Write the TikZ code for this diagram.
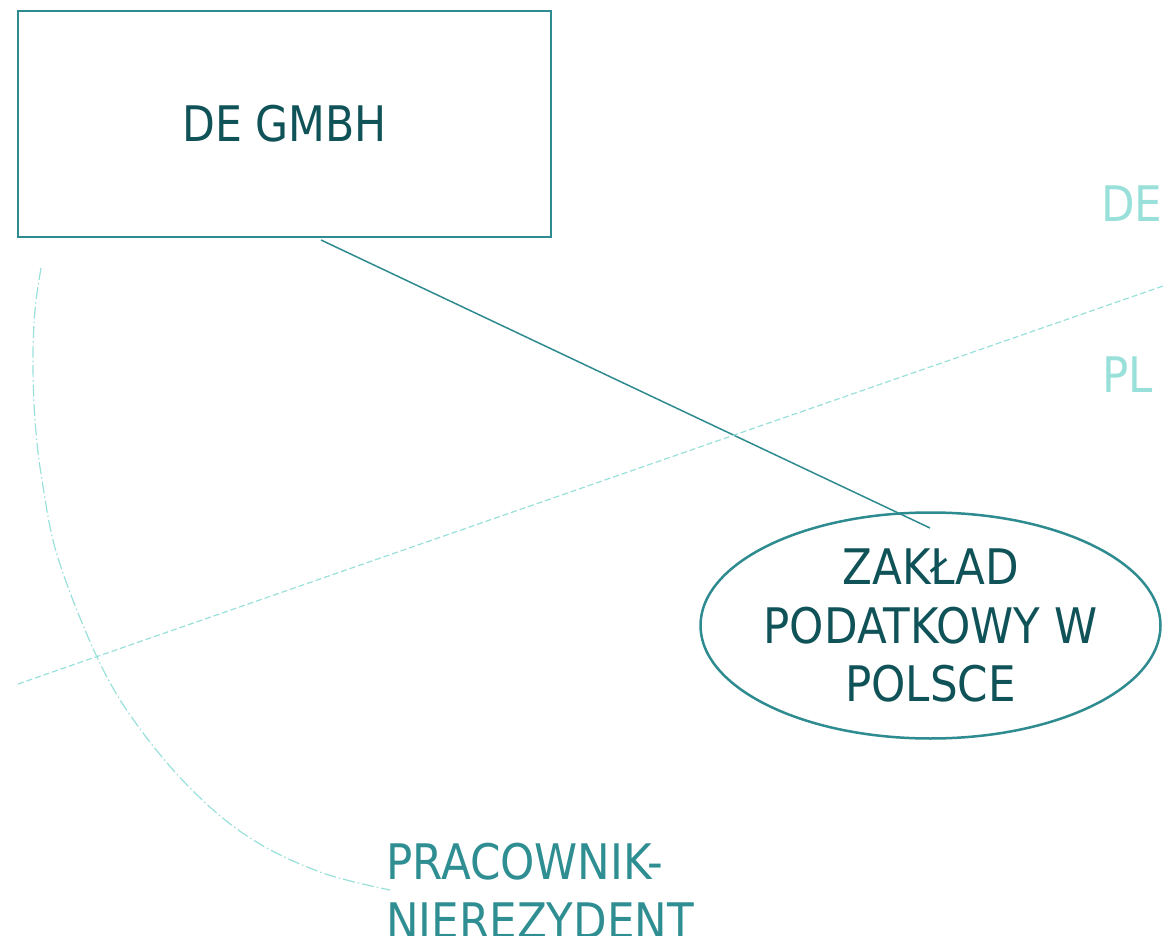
\documentclass[tikz,border=0pt]{standalone}
\usepackage{fontspec}
\setmainfont{DejaVu Sans}[FakeStretch=0.89]
\usetikzlibrary{shapes.geometric}
\definecolor{tealline}{HTML}{2E8B8F}
\definecolor{darktext}{HTML}{0F5257}
\definecolor{midtext}{HTML}{2E8E92}
\definecolor{lighttext}{HTML}{99E0DA}
\tikzset{
  bigfont/.style={font=\fontsize{49}{58.5}\selectfont},
  boxstyle/.style={draw=tealline, line width=2.5pt, minimum width=533pt, minimum height=226pt, inner sep=0pt, text=darktext, font=\fontsize{49}{58.5}\addfontfeatures{FakeStretch=0.87}\selectfont},
  ellstyle/.style={draw=tealline, line width=2.5pt, ellipse, minimum width=460pt, minimum height=226pt, inner xsep=-15pt, inner ysep=0pt, text=darktext, align=center, bigfont},
  linkline/.style={draw=tealline, line width=1.5pt},
  borderline/.style={draw=lighttext, line width=1.2pt, dash pattern=on 6pt off 3pt},
  arcline/.style={draw=lighttext, line width=1.2pt, dash pattern=on 12pt off 3pt on 1.5pt off 3pt},
  countrylabel/.style={text=lighttext, inner sep=0pt, anchor=base west, bigfont},
  personlabel/.style={text=midtext, inner sep=0pt, anchor=north west, align=left, bigfont}
}
\begin{document}
\begin{tikzpicture}[x=1pt,y=-1pt]
\useasboundingbox (0,0) rectangle (1163,936);
\node[boxstyle] (gmbh) at (284.5,124) {DE GMBH};
\node[ellstyle] (zaklad) at (930.5,625.5) {ZAKŁAD\\PODATKOWY W\\POLSCE};
\coordinate (linkstart) at (321,240);
\coordinate (linkend) at (930,528);
\draw[linkline] (linkstart) -- (linkend);
\coordinate (borderA) at (18,684);
\coordinate (borderB) at (1163,286);
\draw[borderline] (borderA) -- (borderB);
\node[countrylabel] (de) at (1101,222) {DE};
\node[countrylabel] (pl) at (1102,392) {PL};
\node[personlabel] (worker) at (386,843) {PRACOWNIK-\\NIEREZYDENT};
\draw[arcline] plot[smooth, tension=0.6] coordinates {(41,268) (35,310) (33,360) (35,420) (42,480) (58,558) (97,657) (135,722) (190,788) (250,838) (320,872) (390,890)};
\end{tikzpicture}
\end{document}
